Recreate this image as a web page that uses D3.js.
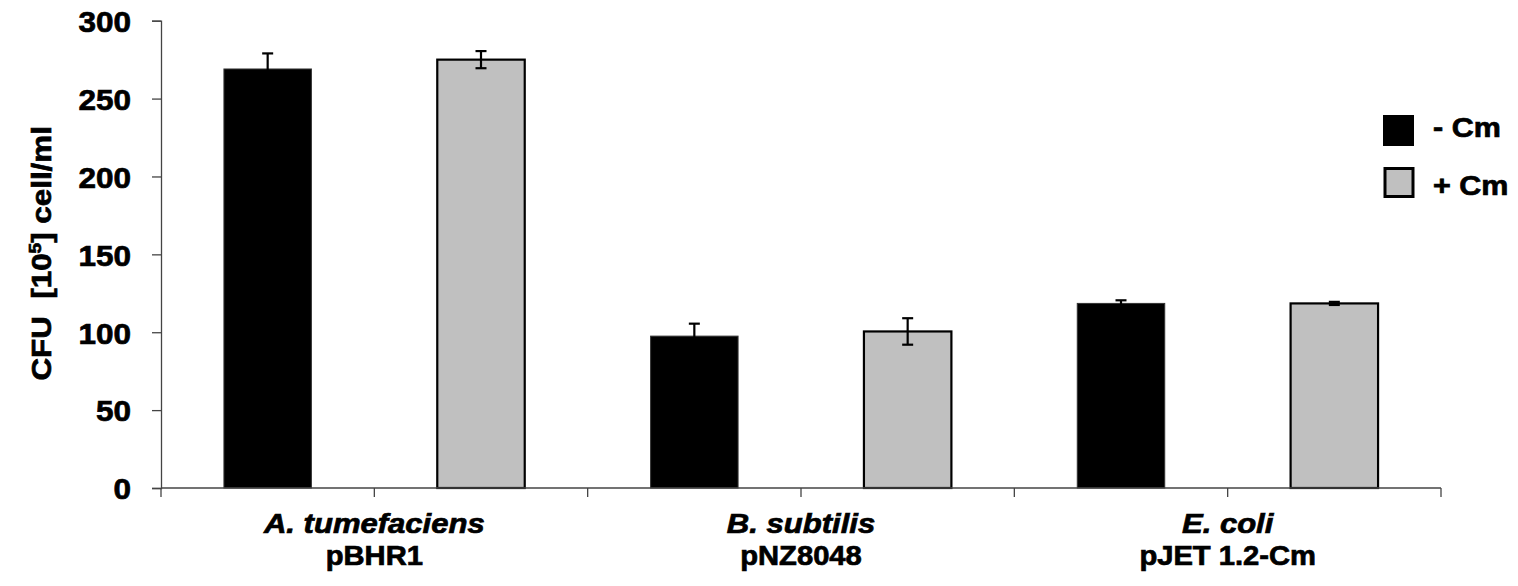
<!DOCTYPE html>
<html>
<head>
<meta charset="utf-8">
<script src="https://cdn.jsdelivr.net/npm/d3@7"></script>
<style>
  html, body { margin: 0; padding: 0; background: #fff; }
  svg { display: block; }
  text { font-family: "Liberation Sans", Arial, sans-serif; font-weight: bold; fill: #000; stroke: #000; stroke-width: 0.7px; }
</style>
</head>
<body>
<svg id="chart" width="1518" height="586"></svg>
<script>
// ---- data ----
const categories = ["A. tumefaciens", "B. subtilis", "E. coli"];
const plasmids = ["pBHR1", "pNZ8048", "pJET 1.2-Cm"];
const seriesNames = ["- Cm", "+ Cm"];
const minusCm = [269, 97.5, 118.5];
const minusCmErr = [10, 8, 2];
const plusCm = [275, 100.5, 118.5];
const plusCmErr = [5.5, 8.5, 1];
const yTicks = [0, 50, 100, 150, 200, 250, 300];

// ---- layout ----
const svg = d3.select("#chart");
const x0 = 161, x1 = 1441, yTop = 20.7, yBot = 488;
const colors = ["#000000", "#c0c0c0"];
const strokes = ["#333333", "#000000"];

const y = d3.scaleLinear().domain([0, 300]).range([yBot, yTop]);
const xOuter = d3.scaleBand().domain(categories).range([x0, x1]).padding(0);
const xInner = d3.scaleBand().domain(seriesNames).range([0, xOuter.bandwidth()]).padding(0);
const barW = xInner.bandwidth() * 0.41;

const rows = categories.map((c, i) => ({
  cat: c,
  vals: [
    { s: seriesNames[0], v: minusCm[i], e: minusCmErr[i], k: 0 },
    { s: seriesNames[1], v: plusCm[i], e: plusCmErr[i], k: 1 }
  ]
}));

// bars
const g = svg.append("g");
const grp = g.selectAll("g.cat").data(rows).join("g")
  .attr("transform", d => `translate(${xOuter(d.cat)},0)`);
grp.selectAll("rect").data(d => d.vals).join("rect")
  .attr("x", d => xInner(d.s) + (xInner.bandwidth() - barW) / 2)
  .attr("y", d => y(d.v))
  .attr("width", barW)
  .attr("height", d => y(0) - y(d.v))
  .attr("fill", d => colors[d.k])
  .attr("stroke", d => strokes[d.k])
  .attr("stroke-width", d => d.k ? 2.2 : 1);

// error bars
const eb = grp.selectAll("g.err").data(d => d.vals).join("g")
  .attr("transform", d => `translate(${xInner(d.s) + xInner.bandwidth() / 2},0)`)
  .attr("stroke", "#000").attr("stroke-width", 2.2);
eb.append("line").attr("x1", 0).attr("x2", 0)
  .attr("y1", d => y(d.v + d.e)).attr("y2", d => y(d.v - d.e));
eb.append("line").attr("x1", -5.5).attr("x2", 5.5)
  .attr("y1", d => y(d.v + d.e)).attr("y2", d => y(d.v + d.e));
eb.append("line").attr("x1", -5.5).attr("x2", 5.5)
  .attr("y1", d => y(d.v - d.e)).attr("y2", d => y(d.v - d.e));

// y axis
const yAxis = svg.append("g").attr("transform", `translate(${x0},0)`)
  .call(d3.axisLeft(y).tickValues(yTicks).tickSize(9).tickPadding(21).tickFormat(d3.format("d")));
yAxis.select(".domain").attr("stroke", "#444").attr("stroke-width", 1.3);
yAxis.selectAll(".tick line").attr("stroke", "#444").attr("stroke-width", 1.3);
yAxis.selectAll(".tick text")
  .style("font-size", "30px").style("font-family", "'Liberation Sans', Arial, sans-serif")
  .style("font-weight", "bold").attr("fill", "#000")
  .attr("dy", "0.36em")
  .attr("transform", function () { const xx = +d3.select(this).attr("x"); return `translate(${xx},0) scale(1.05,1) translate(${-xx},0)`; });

// x axis line + ticks at category boundaries and centres
const xTickPos = [];
categories.forEach(c => { xTickPos.push(xOuter(c)); xTickPos.push(xOuter(c) + xOuter.bandwidth() / 2); });
xTickPos.push(x1);
const xa = svg.append("g");
xa.append("line").attr("x1", x0).attr("x2", x1).attr("y1", yBot).attr("y2", yBot)
  .attr("stroke", "#444").attr("stroke-width", 1.3);
xa.selectAll("line.t").data(xTickPos).join("line").attr("class", "t")
  .attr("x1", d => d).attr("x2", d => d).attr("y1", yBot).attr("y2", yBot + 9)
  .attr("stroke", "#444").attr("stroke-width", 1.3);

// category labels
const lab = svg.append("g").selectAll("g").data(categories).join("g")
  .attr("transform", d => `translate(${xOuter(d) + xOuter.bandwidth() / 2},0)`);
lab.append("text").text(d => d)
  .attr("text-anchor", "middle").style("font-style", "italic").style("font-size", "27px")
  .attr("transform", "translate(0,533) scale(1.15,1)");
lab.append("text").text((d, i) => plasmids[i])
  .attr("text-anchor", "middle").style("font-size", "27px")
  .attr("transform", "translate(0,565) scale(1.08,1)");

// y axis title
const yt = svg.append("text")
  .attr("text-anchor", "middle")
  .attr("transform", `translate(51,${(yTop + yBot) / 2 - 1}) rotate(-90) scale(1.12,1)`)
  .style("font-size", "28px");
yt.append("tspan").text("CFU\u00a0\u00a0[10");
yt.append("tspan").text("5").style("font-size", "17px").attr("dy", "-10");
yt.append("tspan").text("] cell/ml").attr("dy", "10");

// legend
const lg = svg.append("g").selectAll("g").data(seriesNames).join("g")
  .attr("transform", (d, i) => `translate(1383,${115 + i * 52})`);
lg.append("rect")
  .attr("x", (d, i) => i ? 2 : 0).attr("y", (d, i) => i ? 1.5 : 0)
  .attr("width", (d, i) => i ? 28 : 31).attr("height", (d, i) => i ? 28 : 31)
  .attr("fill", (d, i) => colors[i])
  .attr("stroke", "#000").attr("stroke-width", (d, i) => i ? 3 : 0);
lg.append("text").text(d => d)
  .style("font-size", "27px")
  .attr("transform", (d, i) => `translate(50,${i ? 28 : 22}) scale(1.13,1)`);
</script>
</body>
</html>
